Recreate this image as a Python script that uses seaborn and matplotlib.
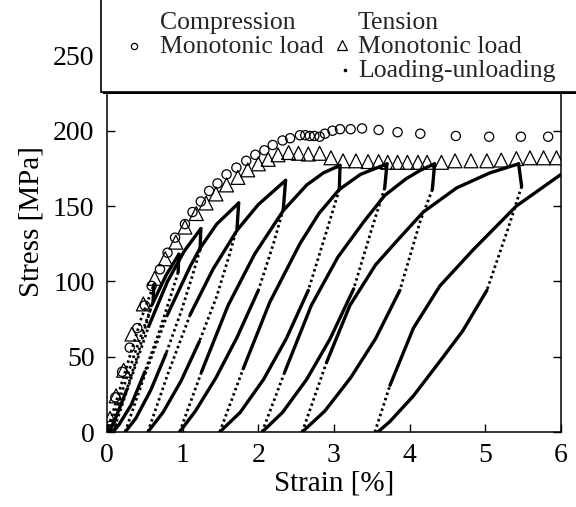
import matplotlib
matplotlib.use("Agg")
import matplotlib.pyplot as plt
import seaborn as sns
import pandas as pd
from matplotlib.lines import Line2D
from matplotlib.patches import Rectangle

# ---------------- data ----------------
comp_strain = [0.00, 0.04, 0.11, 0.20, 0.30, 0.40, 0.50, 0.59, 0.70, 0.80, 0.90, 1.03, 1.13,
               1.24, 1.35, 1.46, 1.58, 1.71, 1.84, 1.96, 2.08, 2.19, 2.32, 2.42, 2.55, 2.62,
               2.68, 2.74, 2.81, 2.88, 2.98, 3.08, 3.22, 3.37, 3.59, 3.84, 4.14, 4.61, 5.05,
               5.47, 5.83]
comp_stress = [0, 4, 23, 40, 56, 69, 84, 97, 108, 119, 129, 138, 146, 153, 160, 165, 171,
               175.5, 180, 184, 187, 190.5, 193.5, 195, 197, 197, 196.5, 196.5, 196, 198, 200,
               201, 201, 201.5, 200.5, 199, 198, 196.5, 196, 196, 196]

ten_strain = [0.00, 0.04, 0.12, 0.22, 0.33, 0.48, 0.63, 0.77, 0.91, 1.03, 1.18, 1.31, 1.44,
              1.58, 1.73, 1.86, 2.00, 2.13, 2.26, 2.40, 2.53, 2.66, 2.81, 2.96, 3.12, 3.29,
              3.45, 3.59, 3.71, 3.84, 3.97, 4.11, 4.23, 4.42, 4.60, 4.81, 5.02, 5.21, 5.41,
              5.59, 5.77, 5.94]
ten_stress = [0, 9, 24, 41, 65, 85, 102, 115, 126, 136, 145, 152, 158, 164, 169, 174, 178,
              181, 184, 185.5, 185, 184.5, 185, 182, 180, 180, 179.5, 179.5, 179, 179, 179,
              179, 179, 179, 180, 180, 180, 180.5, 181.5, 182, 182, 182]

# loading-unloading test: reloading branches (residual strain -> next peak)
reload_strain = [
    [0.00, 0.15, 0.30, 0.45, 0.62],
    [0.03, 0.20, 0.40, 0.60, 0.78, 0.95],
    [0.08, 0.30, 0.55, 0.80, 1.02, 1.24],
    [0.24, 0.50, 0.80, 1.10, 1.23, 1.45, 1.74],
    [0.54, 0.80, 1.10, 1.40, 1.72, 2.00, 2.36],
    [0.96, 1.25, 1.60, 1.95, 2.33, 2.64, 2.86, 3.08],
    [1.49, 1.80, 2.15, 2.55, 2.80, 3.07, 3.35, 3.70],
    [2.05, 2.35, 2.70, 3.05, 3.40, 3.67, 3.95, 4.15, 4.33],
    [2.58, 2.90, 3.21, 3.55, 3.87, 4.18, 4.62, 5.06, 5.44],
    [3.54, 3.74, 4.05, 4.40, 4.84, 5.41, 6.00],
]
reload_stress = [
    [0, 25, 50, 75, 98],
    [0, 27, 57, 85, 104, 118],
    [0, 33, 70, 100, 120, 135],
    [0, 38, 78, 110, 122, 138, 152],
    [0, 38, 78, 108, 134, 151, 167],
    [0, 40, 84, 118, 147, 164, 172, 177],
    [0, 42, 86, 125, 145, 161, 171, 178],
    [0, 40, 84, 116, 140, 157, 168, 174, 178],
    [0, 46, 84, 111, 129, 146, 162, 172, 178],
    [0, 31, 69, 97, 121, 150, 171],
]
# unloading branches (peak -> stress drop -> residual strain)
unload_strain = [
    [0.62, 0.61, 0.52, 0.40, 0.26, 0.12, 0.03],
    [0.95, 0.94, 0.84, 0.68, 0.50, 0.32, 0.16, 0.08],
    [1.24, 1.23, 1.13, 0.98, 0.78, 0.58, 0.38, 0.24],
    [1.74, 1.72, 1.62, 1.45, 1.22, 0.98, 0.74, 0.54],
    [2.36, 2.33, 2.20, 2.00, 1.72, 1.44, 1.17, 0.96],
    [3.08, 3.07, 2.90, 2.66, 2.37, 2.07, 1.76, 1.49],
    [3.70, 3.67, 3.50, 3.26, 2.95, 2.64, 2.32, 2.05],
    [4.33, 4.30, 4.14, 3.87, 3.55, 3.22, 2.88, 2.58],
    [5.44, 5.48, 5.30, 5.02, 4.70, 4.40, 4.05, 3.74, 3.58],
]
unload_stress = [
    [98, 88, 72, 50, 28, 10, 0],
    [118, 106, 90, 65, 40, 18, 5, 0],
    [135, 121, 104, 80, 52, 28, 9, 0],
    [152, 136, 118, 90, 60, 34, 13, 0],
    [167, 148, 125, 94, 63, 36, 14, 0],
    [177, 161, 133, 94, 62, 35, 13, 0],
    [178, 162, 135, 95, 62, 35, 13, 0],
    [178, 161, 140, 94, 62, 36, 14, 0],
    [178, 163, 135, 94, 67, 47, 24, 7, 0],
]

x_ticks = [0, 1, 2, 3, 4, 5, 6]
y_ticks = [0, 50, 100, 150, 200, 250]
x_label = "Strain [%]"
y_label = "Stress [MPa]"
legend_titles = ["Compression", "Tension"]
legend_labels = ["Monotonic load", "Monotonic load", "Loading-unloading"]

# ---------------- build tables: split branches into runs ----------------
# The sampled points of the test look sparse (dotted) where the curve is steep
# and dense (solid) where it is flatter; the stress drop at each peak is dense.
STEEP = 130.0
solid_rows, dotted_rows = [], []
run_counter = [0]


def add_branch(bx, by, first_dense=False):
    pts = list(zip(bx, by))
    kinds = []
    for k in range(len(pts) - 1):
        dx = abs(pts[k + 1][0] - pts[k][0])
        dy = abs(pts[k + 1][1] - pts[k][1])
        steep = dy > STEEP * dx
        if first_dense and k == 0:
            steep = False
        kinds.append("dotted" if steep else "solid")
    k = 0
    while k < len(kinds):
        j = k
        while j + 1 < len(kinds) and kinds[j + 1] == kinds[k]:
            j += 1
        run_counter[0] += 1
        target = dotted_rows if kinds[k] == "dotted" else solid_rows
        for x, y in pts[k:j + 2]:
            target.append({"run": run_counter[0], "strain": x, "stress": y})
        k = j + 1


for bx, by in zip(reload_strain, reload_stress):
    add_branch(bx, by)
for bx, by in zip(unload_strain, unload_stress):
    add_branch(bx, by, first_dense=True)

df_solid = pd.DataFrame(solid_rows)
df_dotted = pd.DataFrame(dotted_rows)
df_comp = pd.DataFrame({"strain": comp_strain, "stress": comp_stress})
df_ten = pd.DataFrame({"strain": ten_strain, "stress": ten_stress})

# ---------------- figure ----------------
sns.set_theme(style="ticks")
plt.rcParams["font.family"] = ["Liberation Serif", "DejaVu Serif"]

W, H = 576, 507
fig = plt.figure(figsize=(W / 100, H / 100), dpi=100)
ax_left, ax_right, ax_bottom = 107, 561, 432
ymax = 280
px_per = (432 - 130.7) / 200
ax_top = ax_bottom - ymax * px_per
ax = fig.add_axes([ax_left / W, (H - ax_bottom) / H, (ax_right - ax_left) / W,
                   (ax_bottom - ax_top) / H])

sns.lineplot(data=df_dotted, x="strain", y="stress", units="run", estimator=None,
             sort=False, color="black", lw=2.0, ax=ax, legend=False,
             linestyle=(0, (0.9, 1.1)))
sns.lineplot(data=df_solid, x="strain", y="stress", units="run", estimator=None,
             sort=False, color="black", lw=2.4, ax=ax, legend=False)
sns.scatterplot(data=df_comp, x="strain", y="stress", marker="o", s=44,
                facecolor="none", edgecolor="black", linewidth=0.9, ax=ax, zorder=3)
sns.scatterplot(data=df_ten, x="strain", y="stress", marker="^", s=100,
                facecolor="none", edgecolor="black", linewidth=0.9, ax=ax, zorder=3)

ax.set_xlim(0, 6)
ax.set_ylim(0, ymax)
ax.set_xticks(x_ticks)
ax.set_yticks(y_ticks)
ax.set_xticklabels([str(t) for t in x_ticks])
ax.set_yticklabels([str(t) for t in y_ticks])
ax.tick_params(direction="in", length=6, width=1, top=True, right=True,
               labelsize=20, colors="black")
ax.tick_params(axis="x", pad=8)
ax.tick_params(axis="y", pad=9)
for sp in ax.spines.values():
    sp.set_visible(True)
    sp.set_linewidth(1.1)
    sp.set_color("black")
ax.set_xlabel(x_label, fontsize=21, color="black", labelpad=2)
ax.set_ylabel(y_label, fontsize=21, color="black", labelpad=6)

# ---------------- legend box (shadowed frame across the top) ----------------
def fx(px):
    return px / W


def fy(py):
    return (H - py) / H


bx0, by1 = 101, 92
fig.add_artist(Rectangle((fx(bx0 + 2), fy(by1 + 2)), fx(W + 20 - bx0), fy(-20) - fy(by1 + 2),
                         transform=fig.transFigure, facecolor="black", edgecolor="none",
                         zorder=5))
fig.add_artist(Rectangle((fx(bx0), fy(by1)), fx(W + 20 - bx0), fy(-20) - fy(by1),
                         transform=fig.transFigure, facecolor="white", edgecolor="black",
                         linewidth=1.2, zorder=6))

lfs = 18.5
fig.text(fx(160), fy(29), legend_titles[0], fontsize=lfs, ha="left", va="baseline", zorder=7)
fig.text(fx(358), fy(29), legend_titles[1], fontsize=lfs, ha="left", va="baseline", zorder=7)
fig.text(fx(160), fy(53), legend_labels[0], fontsize=lfs, ha="left", va="baseline", zorder=7)
fig.text(fx(358), fy(53), legend_labels[1], fontsize=lfs, ha="left", va="baseline", zorder=7)
fig.text(fx(358), fy(77), legend_labels[2], fontsize=lfs, ha="left", va="baseline", zorder=7)
fig.add_artist(Line2D([fx(134)], [fy(46)], marker="o", markersize=4.5, markerfacecolor="none",
                      markeredgecolor="black", markeredgewidth=0.9, linestyle="none",
                      transform=fig.transFigure, zorder=7))
fig.add_artist(Line2D([fx(342)], [fy(45)], marker="^", markersize=7, markerfacecolor="none",
                      markeredgecolor="black", markeredgewidth=0.9, linestyle="none",
                      transform=fig.transFigure, zorder=7))
fig.add_artist(Line2D([fx(345)], [fy(70)], marker="o", markersize=1.6, markerfacecolor="black",
                      markeredgecolor="black", linestyle="none",
                      transform=fig.transFigure, zorder=7))

fig.savefig("out.png", dpi=100)
